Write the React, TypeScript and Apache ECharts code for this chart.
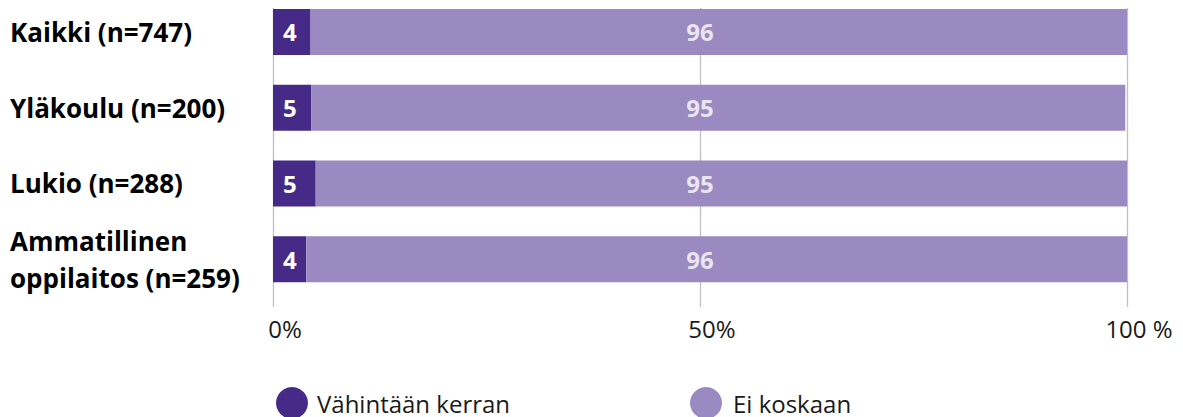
import React, { useEffect, useRef } from "react";
import * as echarts from "echarts";

const categories = [
  "Kaikki (n=747)",
  "Yläkoulu (n=200)",
  "Lukio (n=288)",
  "Ammatillinen\noppilaitos (n=259)",
];
const seriesNames = ["Vähintään kerran", "Ei koskaan"];
const atLeastOnce = [4.4, 4.5, 5.0, 3.9];
const never = [95.6, 95.3, 95.0, 96.1];
const tickLabels = ["0%", "50%", "100 %"];

const DARK = "#452a87";
const LIGHT = "#9b89c1";
const FONT = "'Open Sans', 'Noto Sans', sans-serif";
const SHIFT = 8;

export default function App() {
  const ref = useRef<HTMLDivElement>(null);
  useEffect(() => {
    if (!ref.current) return;
    const chart = echarts.init(ref.current, null, { renderer: "svg" });
    const catLabel = {
      align: "left",
      fontSize: 26,
      fontWeight: "bold",
      color: "#000",
      fontFamily: FONT,
      lineHeight: 37,
    };
    chart.setOption({
      animation: false,
      textStyle: { fontFamily: FONT },
      legend: [
        {
          data: [seriesNames[0]],
          left: 276,
          top: 387 + SHIFT,
          padding: 0,
          itemWidth: 32,
          itemHeight: 32,
          icon: "circle",
          textStyle: { fontSize: 24, color: "#1a1a1a", fontFamily: FONT, padding: [0, 0, 0, 4] },
        },
        {
          data: [seriesNames[1]],
          left: 690,
          top: 387 + SHIFT,
          padding: 0,
          itemWidth: 32,
          itemHeight: 32,
          icon: "circle",
          textStyle: { fontSize: 24, color: "#1a1a1a", fontFamily: FONT, padding: [0, 0, 0, 6] },
        },
      ],
      grid: [
        { left: 273, right: 56, top: SHIFT - 6, height: 303, outerBoundsMode: "none" },
        { left: 273, right: 56, top: SHIFT + 8, height: 299, outerBoundsMode: "none" },
      ],
      xAxis: [
        { gridIndex: 0, type: "value", min: 0, max: 100, show: false },
        {
          gridIndex: 1,
          type: "value",
          min: 0,
          max: 100,
          interval: 50,
          axisLine: { show: false },
          axisTick: { show: false },
          splitLine: { show: true, lineStyle: { color: "#bfbfbf", width: 1.3 } },
          axisLabel: {
            fontSize: 24,
            color: "#1a1a1a",
            fontFamily: FONT,
            margin: 9,
            padding: [0, 0, 0, 24],
            formatter: (v: number) => tickLabels[Math.round(v / 50)],
          },
        },
      ],
      yAxis: [
        {
          gridIndex: 0,
          type: "category",
          inverse: true,
          data: categories.map((c, i) =>
            i === categories.length - 1
              ? { value: c, textStyle: { ...catLabel, padding: [12, 0, 0, 0] } }
              : c
          ),
          axisLine: { show: false },
          axisTick: { show: false },
          axisLabel: { ...catLabel, margin: 263 },
        },
        { gridIndex: 1, type: "category", data: categories, show: false },
      ],
      series: [
        {
          name: seriesNames[0],
          type: "bar",
          stack: "total",
          xAxisIndex: 0,
          yAxisIndex: 0,
          barWidth: 46,
          itemStyle: { color: DARK },
          data: atLeastOnce,
          label: {
            show: true,
            position: "insideLeft",
            distance: 10,
            color: "#fff",
            fontSize: 24,
            fontWeight: "bold",
            fontFamily: FONT,
            formatter: (p: any) => String(Math.round(p.value)),
          },
        },
        {
          name: seriesNames[1],
          type: "bar",
          stack: "total",
          xAxisIndex: 0,
          yAxisIndex: 0,
          barWidth: 46,
          itemStyle: { color: LIGHT },
          data: never,
        },
        {
          type: "scatter",
          xAxisIndex: 0,
          yAxisIndex: 0,
          symbolSize: 0,
          silent: true,
          data: categories.map((c, i) => [50, i]),
          label: {
            show: true,
            position: "inside",
            color: "#fff",
            fontSize: 24,
            fontWeight: "bold",
            fontFamily: FONT,
            formatter: (p: any) => String(Math.round(never[p.dataIndex])),
          },
        },
      ],
    });
    return () => chart.dispose();
  }, []);
  return (
    <div
      ref={ref}
      style={{ position: "absolute", left: 0, top: -SHIFT, width: 1183, height: 417 + SHIFT, background: "#fff" }}
    />
  );
}
